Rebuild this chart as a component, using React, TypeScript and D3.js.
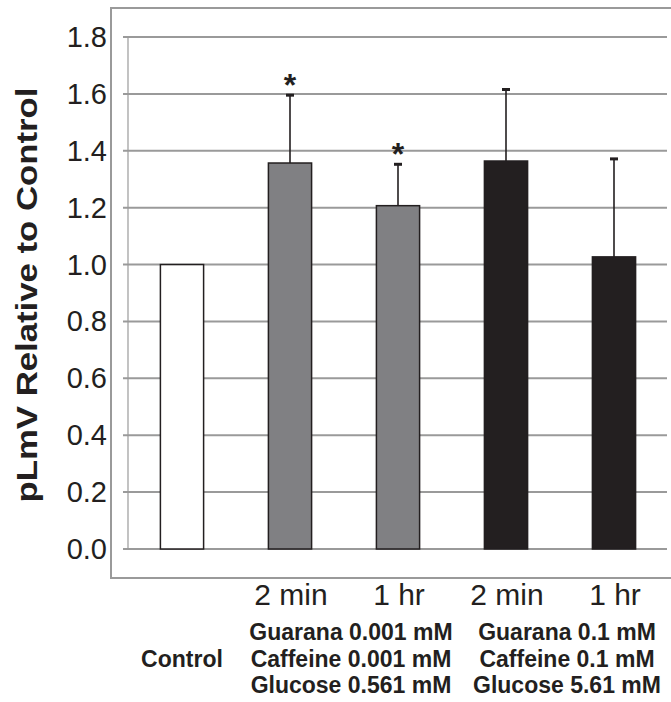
import React, { useEffect, useRef } from "react";
import * as d3 from "d3";

const categories = ["Control", "G1 2 min", "G1 1 hr", "G2 2 min", "G2 1 hr"];
const values = [1.0, 1.357, 1.207, 1.364, 1.027];
const errors = [0, 0.242, 0.149, 0.255, 0.348];
const significant = [false, true, true, false, false];
const timeLabels = ["", "2 min", "1 hr", "2 min", "1 hr"];
const barColors = ["#ffffff", "#808083", "#808083", "#231f20", "#231f20"];
const yTicks = [0, 0.2, 0.4, 0.6, 0.8, 1.0, 1.2, 1.4, 1.6, 1.8];
const groupLabels = [
  { bars: ["G1 2 min", "G1 1 hr"], lines: ["Guarana 0.001 mM", "Caffeine 0.001 mM", "Glucose 0.561 mM"] },
  { bars: ["G2 2 min", "G2 1 hr"], lines: ["Guarana 0.1 mM", "Caffeine 0.1 mM", "Glucose 5.61 mM"] },
];

const App = () => {
  const svgRef = useRef<SVGSVGElement>(null);

  useEffect(() => {
    const W = 671;
    const H = 702;
    const left = 128;
    const right = 668;
    const top = 37;
    const bottom = 549;
    const font = "Arial, 'Liberation Sans', sans-serif";

    const root = d3.select(svgRef.current);
    root.selectAll("*").remove();
    const svg = root.attr("width", W).attr("height", H);

    const x = d3.scaleBand().domain(categories).range([left, right]).paddingInner(0.6).paddingOuter(0.3);
    const y = d3.scaleLinear().domain([0, 1.8]).range([bottom, top]);

    // outer frame
    svg.append("rect")
      .attr("x", 111).attr("y", 8)
      .attr("width", 600).attr("height", 570)
      .attr("fill", "none").attr("stroke", "#9a9a9a").attr("stroke-width", 2);

    // gridlines (with tick stub on left)
    svg.append("g")
      .selectAll("line")
      .data(yTicks)
      .enter()
      .append("line")
      .attr("x1", left - 5).attr("x2", right - 1)
      .attr("y1", (d) => y(d)).attr("y2", (d) => y(d))
      .attr("stroke", "#9a9a9a").attr("stroke-width", 2);

    // y axis line
    svg.append("line")
      .attr("x1", left).attr("x2", left)
      .attr("y1", y(1.8)).attr("y2", y(0))
      .attr("stroke", "#9a9a9a").attr("stroke-width", 1.2);

    // tick labels
    svg.append("g")
      .selectAll("text")
      .data(yTicks)
      .enter()
      .append("text")
      .attr("x", 107)
      .attr("y", (d) => y(d) + 10)
      .attr("text-anchor", "end")
      .attr("font-family", font)
      .attr("font-size", 29)
      .attr("fill", "#231f20")
      .text((d) => d.toFixed(1));

    // y title
    svg.append("text")
      .attr("transform", "translate(37,295) rotate(-90)")
      .attr("text-anchor", "middle")
      .attr("font-family", font)
      .attr("font-weight", "bold")
      .attr("font-size", 29)
      .attr("textLength", 415)
      .attr("lengthAdjust", "spacingAndGlyphs")
      .attr("fill", "#231f20")
      .text("pLmV Relative to Control");

    // bars
    svg.append("g")
      .selectAll("rect")
      .data(categories)
      .enter()
      .append("rect")
      .attr("x", (d) => x(d)!)
      .attr("y", (d, i) => y(values[i]))
      .attr("width", x.bandwidth())
      .attr("height", (d, i) => y(0) - y(values[i]))
      .attr("fill", (d, i) => barColors[i])
      .attr("stroke", "#231f20")
      .attr("stroke-width", 1.5);

    // error bars
    const err = svg.append("g")
      .selectAll("g")
      .data(categories.filter((d, i) => errors[i] > 0))
      .enter()
      .append("g");
    err.append("line")
      .attr("x1", (d) => x(d)! + x.bandwidth() / 2)
      .attr("x2", (d) => x(d)! + x.bandwidth() / 2)
      .attr("y1", (d) => y(values[categories.indexOf(d)]))
      .attr("y2", (d) => { const i = categories.indexOf(d); return y(values[i] + errors[i]); })
      .attr("stroke", "#231f20").attr("stroke-width", 1.6);
    err.append("line")
      .attr("x1", (d) => x(d)! + x.bandwidth() / 2 - 4)
      .attr("x2", (d) => x(d)! + x.bandwidth() / 2 + 4)
      .attr("y1", (d) => { const i = categories.indexOf(d); return y(values[i] + errors[i]) + 1; })
      .attr("y2", (d) => { const i = categories.indexOf(d); return y(values[i] + errors[i]) + 1; })
      .attr("stroke", "#231f20").attr("stroke-width", 3);

    // significance stars
    svg.append("g")
      .selectAll("text")
      .data(categories.filter((d, i) => significant[i]))
      .enter()
      .append("text")
      .attr("x", (d) => x(d)! + x.bandwidth() / 2)
      .attr("y", (d) => { const i = categories.indexOf(d); return y(values[i] + errors[i]) + 18; })
      .attr("text-anchor", "middle")
      .attr("font-family", font)
      .attr("font-weight", "bold")
      .attr("font-size", 32)
      .attr("fill", "#231f20")
      .attr("dy", "-0.5em")
      .text("*");

    // time labels
    svg.append("g")
      .selectAll("text")
      .data(categories)
      .enter()
      .append("text")
      .attr("x", (d) => x(d)! + x.bandwidth() / 2 + 1)
      .attr("y", 605)
      .attr("text-anchor", "middle")
      .attr("font-family", font)
      .attr("font-size", 30)
      .attr("fill", "#231f20")
      .text((d, i) => timeLabels[i]);

    // Control label
    svg.append("text")
      .attr("x", x("Control")! + x.bandwidth() / 2)
      .attr("y", 667)
      .attr("text-anchor", "middle")
      .attr("font-family", font)
      .attr("font-weight", "bold")
      .attr("font-size", 23)
      .attr("fill", "#231f20")
      .text("Control");

    // group labels
    groupLabels.forEach((g) => {
      const cx = (x(g.bars[0])! + x(g.bars[1])! + x.bandwidth()) / 2 + 7;
      svg.append("g")
        .selectAll("text")
        .data(g.lines)
        .enter()
        .append("text")
        .attr("x", cx)
        .attr("y", (d, i) => 640 + i * 26.5)
        .attr("text-anchor", "middle")
        .attr("font-family", font)
        .attr("font-weight", "bold")
        .attr("font-size", 23)
        .attr("fill", "#231f20")
        .text((d) => d);
    });
  }, []);

  return <svg ref={svgRef} style={{ position: "absolute", left: 0, top: 0 }}></svg>;
};

export default App;
